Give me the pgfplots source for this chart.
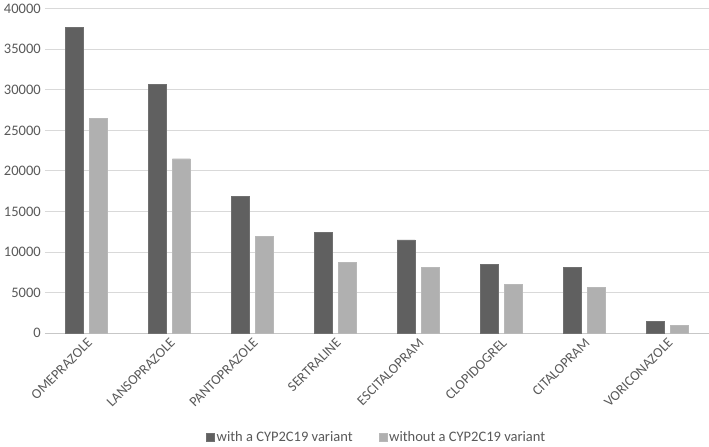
\documentclass[border=0pt]{standalone}
\usepackage{pgfplots}
\pgfplotsset{compat=1.18}
\usepackage{fontspec}
\setmainfont{Carlito}
\definecolor{darkbar}{HTML}{606060}
\definecolor{lightbar}{HTML}{B0B0B0}
\definecolor{txt}{HTML}{595959}
\definecolor{gridc}{HTML}{D9D9D9}
\begin{document}
\begin{tikzpicture}
\begin{axis}[
  scale only axis,
  width=661bp, height=323bp,
  ybar=6bp, bar width=18bp,
  xmin=-0.5, xmax=7.5,
  ymin=0, ymax=40000,
  ytick={0,5000,...,40000},
  xtick={0,...,7},
  xticklabels={OMEPRAZOLE,LANSOPRAZOLE,PANTOPRAZOLE,SERTRALINE,ESCITALOPRAM,CLOPIDOGREL,CITALOPRAM,VORICONAZOLE},
  xticklabel style={rotate=45, anchor=north east, font=\fontsize{14}{16}\selectfont, text=txt, inner sep=3pt},
  yticklabel style={font=\fontsize{14.5}{16}\selectfont, text=txt, inner sep=4pt},
  /pgf/number format/assume math mode=true,
  scaled y ticks=false,
  yticklabel={\pgfmathprintnumber[1000 sep={}]{\tick}},
  major tick length=0pt,
  axis line style={draw=none},
  ymajorgrids, grid style={gridc, line width=0.8pt},
  extra y ticks={0}, extra y tick labels={},
  extra y tick style={grid style={draw=gridc!80!gray, line width=0.9pt}},
  legend columns=2,
  legend style={at={(0.5,-0.29)}, anchor=north, draw=none, font=\fontsize{14.5}{16}\selectfont, text=txt, /tikz/every even column/.append style={column sep=24bp}},
  legend image code/.code={\fill[#1] (0bp,-4bp) rectangle (8bp,4bp);},
]
\addplot[fill=darkbar, draw=darkbar!90!white] coordinates {(0,37700) (1,30700) (2,16900) (3,12400) (4,11500) (5,8500) (6,8080) (7,1400)};
\addplot[fill=lightbar, draw=lightbar!90!white] coordinates {(0,26500) (1,21500) (2,11900) (3,8700) (4,8080) (5,5980) (6,5650) (7,940)};
\legend{with a CYP2C19 variant, without a CYP2C19 variant}
\end{axis}
\end{tikzpicture}
\end{document}
